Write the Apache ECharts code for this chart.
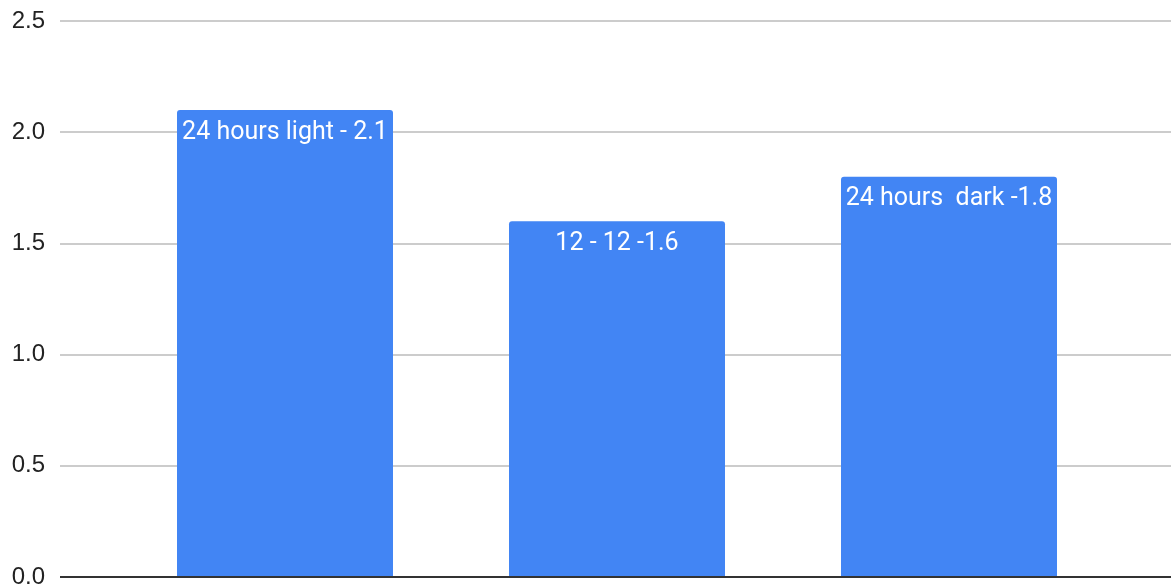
<!DOCTYPE html>
<html><head><meta charset="utf-8">
<script src="https://cdn.jsdelivr.net/npm/echarts@6/dist/echarts.min.js"></script>
<style>html,body{margin:0;padding:0;background:#fff}#c{width:1171px;height:586px}</style>
</head><body><div id="c"></div>
<script>
const categories = ["24 hours light", "12 - 12", "24 hours  dark"];
const values = [2.1, 1.6, 1.8];
const barLabels = ["24 hours light - 2.1", "12 - 12 -1.6", "24 hours  dark -1.8"];
const yTicks = [0, 0.5, 1.0, 1.5, 2.0, 2.5];

const chart = echarts.init(document.getElementById('c'), null, {renderer: 'canvas'});
chart.setOption({
  animation: false,
  grid: [
    {left: 60, right: 0, top: 21, bottom: 9, containLabel: false, outerBoundsMode: 'none'},
    {left: 119, width: 996, top: 21, bottom: 9, containLabel: false, outerBoundsMode: 'none'}
  ],
  xAxis: [
    {gridIndex: 0, type: 'category', data: categories, show: false},
    {gridIndex: 1, type: 'category', data: categories, axisLine: {show: false}, axisTick: {show: false}, axisLabel: {show: false}}
  ],
  yAxis: [
    {gridIndex: 0, type: 'value', min: yTicks[0], max: yTicks[yTicks.length-1], interval: 0.5,
     axisLine: {show: false}, axisTick: {show: false},
     axisLabel: {formatter: v => v.toFixed(1), color: '#222', fontSize: 24, fontFamily: 'Liberation Sans, Arial', margin: 15},
     splitLine: {lineStyle: {color: '#cccccc', width: 2}}},
    {gridIndex: 1, type: 'value', min: yTicks[0], max: yTicks[yTicks.length-1], interval: 0.5, show: false, splitLine: {show: false}}
  ],
  series: [
    {type: 'bar', xAxisIndex: 1, yAxisIndex: 1, data: values, barWidth: 216,
     itemStyle: {color: '#4285F4', borderRadius: [3, 3, 0, 0]},
     label: {show: true, position: 'insideTop', distance: 10, color: '#fff', fontSize: 25, fontFamily: 'Roboto',
             formatter: p => barLabels[p.dataIndex]}},
    {type: 'line', xAxisIndex: 0, yAxisIndex: 0, data: [], silent: true,
     markLine: {silent: true, symbol: 'none', label: {show: false}, lineStyle: {color: '#333', width: 2, type: 'solid'}, data: [{yAxis: 0}]}}
  ]
});
</script></body></html>
